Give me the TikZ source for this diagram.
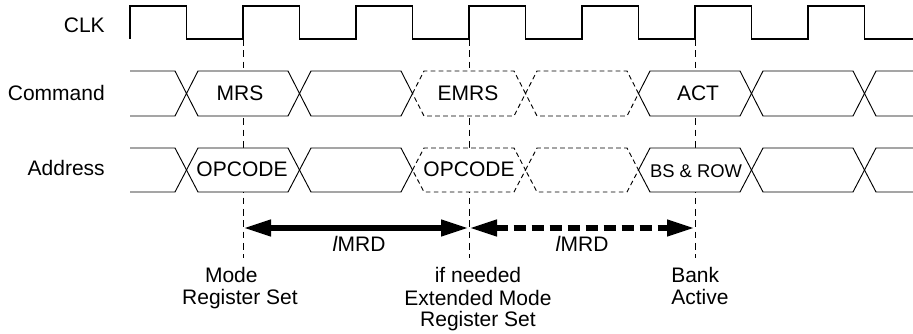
\documentclass[tikz,border=0pt]{standalone}
\usepackage{fontspec}
\setmainfont{Liberation Sans}
\usetikzlibrary{positioning, arrows.meta}

% one bus cell: x1, x2, top, bottom (coordinates in pixels)
\newcommand{\busbox}[5][]{%
  \path[#1] (#2,{(#4+#5)/2}) -- ({#2+11.5},#4) -- ({#3-11.5},#4)
    -- (#3,{(#4+#5)/2}) -- ({#3-11.5},#5) -- ({#2+11.5},#5) -- cycle;}

\begin{document}
\begin{tikzpicture}[
    x=0.75pt, y=-0.75pt,
    font=\fontsize{15.75}{16.5}\selectfont,
    wave/.style={draw=black, line width=0.9pt},
    bus/.style={draw=black, line width=0.7pt},
    busdash/.style={draw=black, line width=0.7pt, dash pattern=on 3.5pt off 2.5pt},
    marker/.style={draw=black, line width=0.7pt, dash pattern=on 5pt off 3.5pt},
    tmrd/.style={line width=4.5pt, {Triangle[length=21pt,width=11.5pt]}-{Triangle[length=21pt,width=11.5pt]}},
    sig/.style={anchor=base east, inner sep=0pt},
    cell/.style={anchor=base, inner sep=0pt},
    note/.style={anchor=base, align=center, inner sep=0pt}
]
    \useasboundingbox (0,0) rectangle (913,334);

    % Markers
    \foreach \x/\n in {243/mrs, 469/emrs, 695/act} {
        \coordinate (\n top) at (\x,39);
        \coordinate (\n bot) at (\x,258);
        \coordinate (\n) at (\x,228);
        \draw[marker] (\n top) -- (\n bot);
    }

    % Clock
    \draw[wave] (130,39) \foreach \k in {0,...,5} {
        -- ++(0,-33) -- ++(56.5,0) -- ++(0,33) -- ++(56.5,0)}
        -- ++(0,-33) -- ++(56.5,0) -- ++(0,33) -- (913,39);

    % Command and Address buses
    \foreach \a/\b in {186.5/299.5, 299.5/412.5, 412.5/525.5, 525.5/638.5, 638.5/751.5, 751.5/864.5} {
        \busbox[fill=white]{\a}{\b}{71}{116}
        \busbox[fill=white]{\a}{\b}{148}{192}
    }
    \foreach \a/\b in {186.5/299.5, 299.5/412.5, 638.5/751.5, 751.5/864.5} {
        \busbox[bus]{\a}{\b}{71}{116}
        \busbox[bus]{\a}{\b}{148}{192}
    }
    \foreach \a/\b in {412.5/525.5, 525.5/638.5} {
        \busbox[busdash]{\a}{\b}{71}{116}
        \busbox[busdash]{\a}{\b}{148}{192}
    }
    \foreach \t/\b in {71/116, 148/192} {
        \draw[bus] (130,\t) -- (175,\t) -- (186.5,{(\t+\b)/2}) -- (175,\b) -- (130,\b);
        \draw[bus] (913,\t) -- (876,\t) -- (864.5,{(\t+\b)/2}) -- (876,\b) -- (913,\b);
    }

    % Signal names
    \node[sig] (clk) at (105,33) {CLK};
    \node[sig] (cmd) at (105,101) {Command};
    \node[sig] (addr) at (105,176) {Address};

    % Bus contents
    \node[cell] (mrs cmd) at (240,101) {MRS};
    \node[cell] (emrs cmd) at (468,101) {EMRS};
    \node[cell] (act cmd) at (698,101) {ACT};
    \node[cell] (mrs addr) at (242,177) {OPCODE};
    \node[cell] (emrs addr) at (469,177) {OPCODE};
    \node[cell, font=\fontsize{13.8}{16}\selectfont] (act addr) at (696,177.5) {BS \& ROW};

    % tMRD
    \draw[tmrd] (mrs) -- (emrs);
    \draw[tmrd, dash pattern=on 9pt off 4.5pt] (emrs) -- (act);
    \node[cell] (tmrd1) at (359,252) {\textit{l}MRD};
    \node[cell] (tmrd2) at (582,252) {\textit{l}MRD};

    % Labels (base is the last line)
    \node[note] (mrs note) at (240,305) {Mode\hspace*{13pt}\\Register Set};
    \node[note] (emrs note) at (478,327) {if needed\\Extended Mode\\Register Set};
    \node[note, align=left, anchor=base west] (act note) at (671,305) {Bank\\Active};
\end{tikzpicture}
\end{document}
